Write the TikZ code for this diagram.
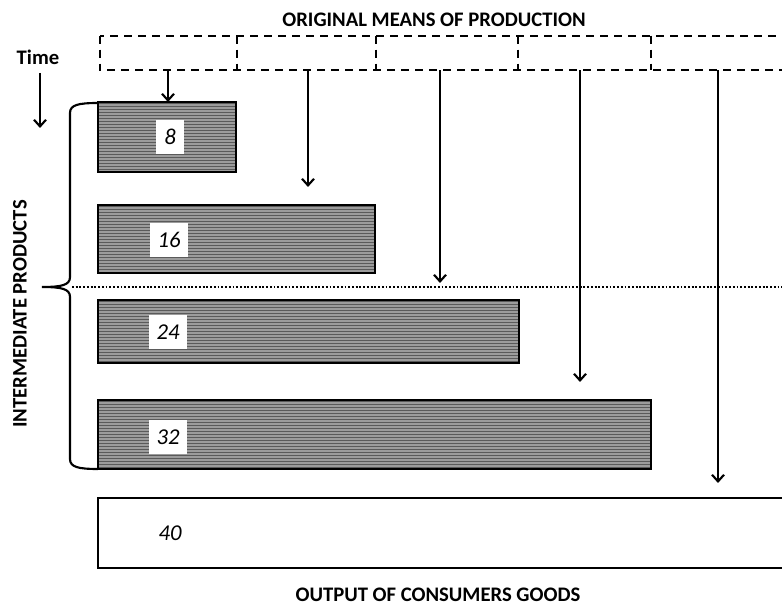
\documentclass[tikz,border=0pt]{standalone}
\usepackage{fontspec}
\setmainfont{Carlito}
\usetikzlibrary{arrows.meta,fit}
\definecolor{bardark}{HTML}{5A5A5A}
\definecolor{barlight}{HTML}{9C9C9C}
\tikzset{
  cell/.style={inner sep=0pt},
  dashes/.style={line width=1.6pt, dash pattern=on 6pt off 4.5pt},
  bar/.style={draw, line width=1.6pt, fill=bardark, inner sep=0pt,
    path picture={\foreach \k in {1,...,32}
      \draw[barlight, line width=1pt]
        ([yshift=-\k*2.25pt]path picture bounding box.north west) --
        ([yshift=-\k*2.25pt]path picture bounding box.north east);}},
  outbox/.style={draw, line width=1.3pt, inner sep=0pt},
  num/.style={fill=white, inner xsep=6pt, minimum height=26pt,
    font=\fontsize{17}{19}\selectfont\itshape},
  lbl/.style={font=\fontsize{15.5}{17}\selectfont\bfseries},
  arr/.style={line width=1.6pt, -{Straight Barb[length=5pt,width=9pt,line width=1.6pt]}}
}
\begin{document}
\begin{tikzpicture}[x=0.75pt,y=-0.75pt]
  \useasboundingbox (0,0) rectangle (782,605);

  % Define the cells of the original means of production
  \node[cell, fit={(100,36) (237,70)}] (m1) {};
  \node[cell, fit={(237,36) (376,70)}] (m2) {};
  \node[cell, fit={(376,36) (518,70)}] (m3) {};
  \node[cell, fit={(518,36) (651,70)}] (m4) {};
  \node[cell, fit={(651,36) (795,70)}] (m5) {};

  % Draw the cells
  \draw[dashes] (m1.north west) rectangle (m5.south east);
  \draw[dashes] (m1.north east) -- (m1.south east);
  \draw[dashes] (m2.north east) -- (m2.south east);
  \draw[dashes] (m3.north east) -- (m3.south east);
  \draw[dashes] (m4.north east) -- (m4.south east);

  % Draw the intermediate products
  \node[bar, fit={(98,102) (236,172)}] (b1) {};
  \node[bar, fit={(98,205) (375,273)}] (b2) {};
  \node[bar, fit={(98,300) (519,363)}] (b3) {};
  \node[bar, fit={(98,400) (651,469)}] (b4) {};
  \node[outbox, fit={(98,498) (795,568)}] (out) {};

  % Label the bars
  \node[num] (n1) at (170,137) {8};
  \node[num] (n2) at (169,240) {16};
  \node[num] (n3) at (168,332) {24};
  \node[num] (n4) at (168,437) {32};
  \node[num] (n5) at (170,533) {40};

  % Ends of the arrows
  \coordinate (e1) at (168,102);
  \coordinate (e2) at (308,187);
  \coordinate (e3) at (440,283);
  \coordinate (e4) at (580,382);
  \coordinate (e5) at (718,483);

  % Draw the arrows
  \draw[arr] (e1 |- m1.south) -- (e1);
  \draw[arr] (e2 |- m2.south) -- (e2);
  \draw[arr] (e3 |- m3.south) -- (e3);
  \draw[arr] (e4 |- m4.south) -- (e4);
  \draw[arr] (e5 |- m5.south) -- (e5);

  % Time
  \node[lbl] (time) at (38,57) {Time};
  \coordinate (t) at (40,128);
  \draw[arr] (40,73) -- (t);

  % Draw the brace
  \coordinate (bt) at (98,103);
  \coordinate (tip) at (42,287);
  \coordinate (bb) at (98,469);
  \draw[line width=1.6pt] (bt) .. controls (78,103) and (70,105) .. (70,113)
    -- (70,277) .. controls (70,285) and (62,287) .. (tip)
    .. controls (62,287) and (70,289) .. (70,297)
    -- (70,459) .. controls (70,467) and (78,469) .. (bb);
  \coordinate (dl) at (795,287);
  \draw[line width=1.5pt, dash pattern=on 1.4pt off 1.4pt] (72,287) -- (dl);

  % Label the groups
  \node[lbl] (top) at (434,20) {ORIGINAL MEANS OF PRODUCTION};
  \node[lbl, rotate=90] (side) at (20,314) {INTERMEDIATE PRODUCTS};
  \node[lbl] (bottom) at (438,595) {OUTPUT OF CONSUMERS GOODS};
\end{tikzpicture}
\end{document}
